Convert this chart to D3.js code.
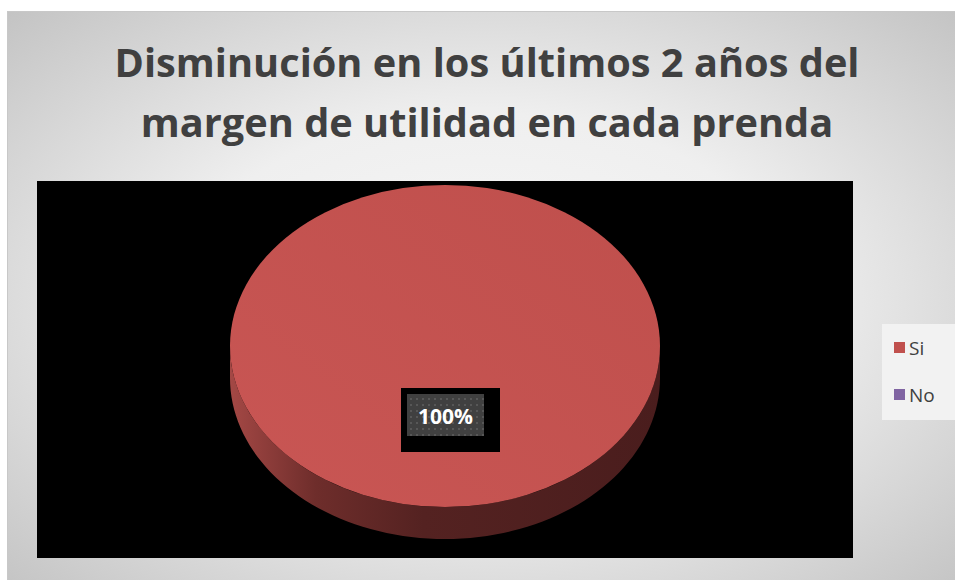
<!DOCTYPE html>
<html lang="es">
<head>
<meta charset="utf-8">
<title>Disminución margen de utilidad</title>
<script src="https://cdnjs.cloudflare.com/ajax/libs/d3/7.8.5/d3.min.js"></script>
<style>
  body { margin: 0; background: #ffffff; }
  .title { font-family: "Open Sans", sans-serif; font-weight: bold; fill: #404040; text-anchor: middle; }
  .legend_text { font-family: "Open Sans", sans-serif; font-size: 19px; fill: #404040; }
  .pct { font-family: "Open Sans", sans-serif; font-weight: bold; font-size: 21px; fill: #ffffff; text-anchor: middle; }
</style>
</head>
<body>
<script>
// data
var categories = ["Si", "No"];
var values = [100, 0];
var colors = ["#c0504d", "#8064a2"];
var titleLines = ["Disminución en los últimos 2 años del", "margen de utilidad en cada prenda"];

var width = 955, height = 580;

var svg = d3.select("body").append("svg")
  .attr("width", width)
  .attr("height", height);

var defs = svg.append("defs");

// chart background, light in the middle, grey towards the corners
var bg = defs.append("radialGradient").attr("id", "bgGrad")
  .attr("cx", "50%").attr("cy", "50%").attr("r", "72%");
bg.append("stop").attr("offset", "0%").attr("stop-color", "#f7f7f7");
bg.append("stop").attr("offset", "45%").attr("stop-color", "#efefef");
bg.append("stop").attr("offset", "100%").attr("stop-color", "#c2c2c2");

// side of the pie, lit from the left
var sideGrad = defs.append("linearGradient").attr("id", "sideGrad")
  .attr("x1", "0%").attr("x2", "100%").attr("y1", "0%").attr("y2", "0%");
sideGrad.append("stop").attr("offset", "0%").attr("stop-color", "#a44845");
sideGrad.append("stop").attr("offset", "20%").attr("stop-color", "#6e2d2b");
sideGrad.append("stop").attr("offset", "45%").attr("stop-color", "#542221");
sideGrad.append("stop").attr("offset", "100%").attr("stop-color", "#4a1d1d");

var topGrad = defs.append("linearGradient").attr("id", "topGrad")
  .attr("x1", "0%").attr("x2", "100%").attr("y1", "100%").attr("y2", "0%");
topGrad.append("stop").attr("offset", "0%").attr("stop-color", "#c95654");
topGrad.append("stop").attr("offset", "100%").attr("stop-color", "#bf4f4c");

// dotted fill of the data label
var pat = defs.append("pattern").attr("id", "dots")
  .attr("width", 6).attr("height", 6).attr("patternUnits", "userSpaceOnUse");
pat.append("rect").attr("width", 6).attr("height", 6).attr("fill", "#404040");
pat.append("rect").attr("x", 2).attr("y", 2).attr("width", 2).attr("height", 2).attr("fill", "#575757");

// chart area
svg.append("rect")
  .attr("x", 7.5).attr("y", 11.5)
  .attr("width", width).attr("height", height)
  .attr("fill", "url(#bgGrad)")
  .attr("stroke", "#c8c8c8");

// title: taller glyphs squeezed so the first line spans the original width
var titleSize = 39;
titleLines.forEach(function(line, i) {
  svg.append("text")
    .attr("class", "title")
    .attr("x", 487)
    .attr("y", 77 + i * 60)
    .style("font-size", titleSize + "px")
    .text(line);
});
var titles = svg.selectAll(".title");
var squeeze = 745 / titles.nodes()[0].getComputedTextLength();
titles.each(function() {
  var len = this.getComputedTextLength();
  d3.select(this)
    .attr("textLength", len * squeeze)
    .attr("lengthAdjust", "spacingAndGlyphs");
});

// plot area
var plot = { x: 37, y: 181, w: 816, h: 377 };
svg.append("rect")
  .attr("x", plot.x).attr("y", plot.y)
  .attr("width", plot.w).attr("height", plot.h)
  .attr("fill", "#000000");

// pie
var cx = 445, cy = 346, rx = 215, ry = 161, depth = 32;

var pie = d3.pie().sort(null).value(function(d) { return d; });
var arcs = pie(values);

var arc = d3.arc().innerRadius(0).outerRadius(rx);

var pieG = svg.append("g");

// side walls (only front half is visible)
arcs.forEach(function(a, i) {
  if (a.endAngle - a.startAngle <= 0) return;
  // d3 angles: 0 at 12 o'clock, clockwise. Front half is PI/2 .. 3PI/2
  var s = Math.max(a.startAngle, Math.PI / 2);
  var e = Math.min(a.endAngle, 3 * Math.PI / 2);
  if (e <= s) return;
  var n = 80, upper = [], lower = [];
  for (var k = 0; k <= n; k++) {
    var t = s + (e - s) * k / n;
    var px = cx + rx * Math.sin(t);
    var py = cy - ry * Math.cos(t);
    upper.push([px, py]);
    lower.push([px, py + depth]);
  }
  var pts = upper.concat(lower.reverse());
  pieG.append("path")
    .attr("d", d3.line()(pts) + "Z")
    .attr("fill", i === 0 ? "url(#sideGrad)" : d3.color(colors[i]).darker(1.5));
});

// top faces
pieG.selectAll(".slice")
  .data(arcs)
  .enter()
  .append("path")
  .attr("class", "slice")
  .attr("transform", "translate(" + cx + "," + cy + ") scale(1," + (ry / rx) + ")")
  .attr("d", arc)
  .attr("fill", function(d, i) { return i === 0 ? "url(#topGrad)" : colors[i]; });

// data label
var total = d3.sum(values);
var lab = svg.append("g");
lab.append("rect").attr("x", 401).attr("y", 388).attr("width", 99).attr("height", 64).attr("fill", "#000000");
lab.append("rect").attr("x", 407).attr("y", 394).attr("width", 77).attr("height", 42).attr("fill", "url(#dots)");
lab.append("text")
  .attr("class", "pct")
  .attr("x", 445.5).attr("y", 424)
  .text(Math.round(values[0] / total * 100) + "%");

// legend
var legend = svg.append("g");
legend.append("rect")
  .attr("x", 882).attr("y", 324).attr("width", 73).attr("height", 96)
  .attr("fill", "#f2f2f2");
categories.forEach(function(c, i) {
  var y0 = 342 + i * 47;
  legend.append("rect")
    .attr("x", 894).attr("y", y0).attr("width", 11).attr("height", 11)
    .attr("fill", colors[i]);
  legend.append("text")
    .attr("class", "legend_text")
    .attr("x", 909).attr("y", y0 + 13)
    .text(c);
});
</script>
</body>
</html>
